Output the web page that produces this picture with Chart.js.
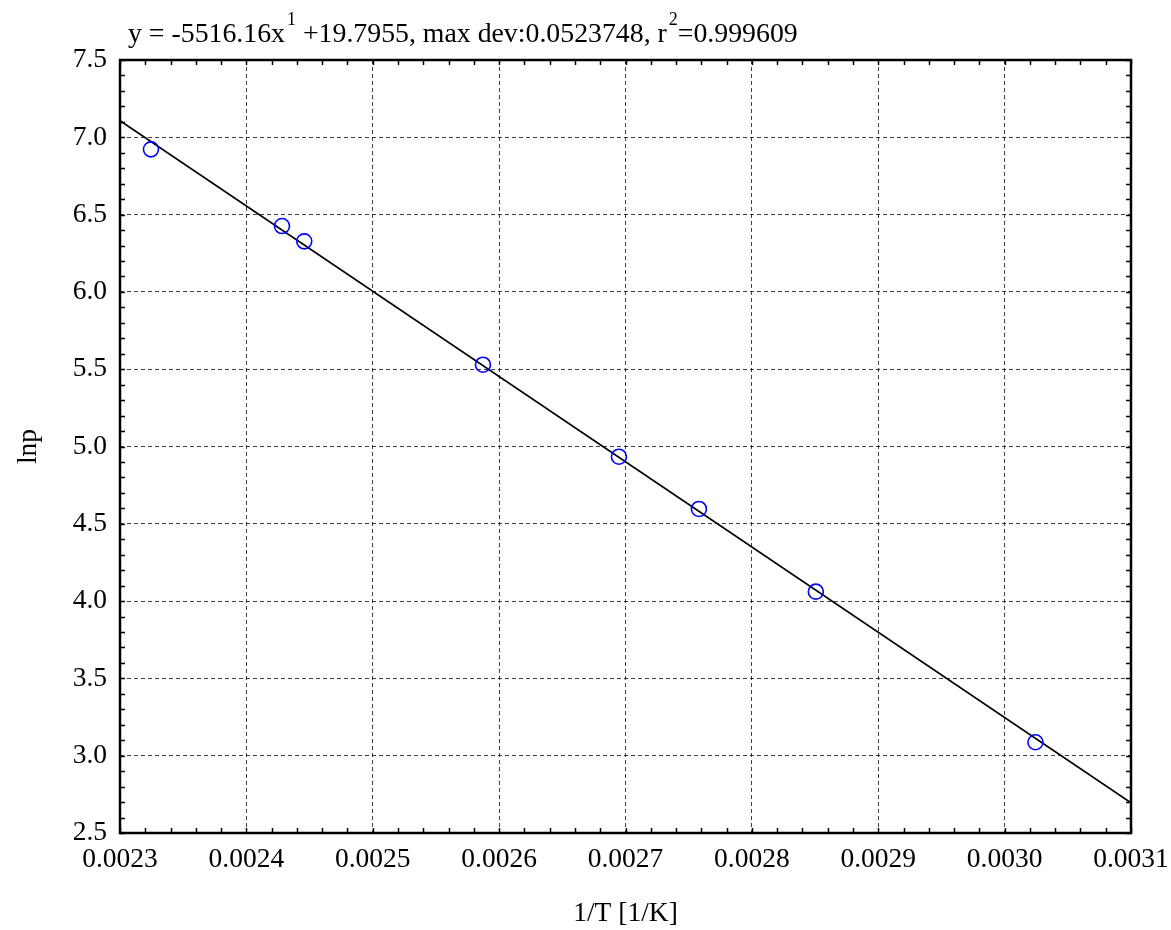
<!DOCTYPE html>
<html>
<head>
<meta charset="utf-8">
<script src="https://cdn.jsdelivr.net/npm/chart.js@4.4.1/dist/chart.umd.min.js"></script>
<style>
  html, body { margin: 0; padding: 0; background: #ffffff; }
  #wrap { width: 1171px; height: 930px; }
</style>
</head>
<body>
<div id="wrap"><canvas id="c" width="1171" height="930"></canvas></div>
<script>
// ---- data ----
const invT = [0.0023245, 0.0024282, 0.0024458, 0.0025872, 0.0026948, 0.0027581, 0.0028506, 0.0030244];
const lnp  = [6.922, 6.426, 6.327, 5.529, 4.934, 4.596, 4.061, 3.087];
const fitX = [0.0023, 0.0031];
const fitY = [7.108, 2.696];
const xTicks = [0.0023, 0.0024, 0.0025, 0.0026, 0.0027, 0.0028, 0.0029, 0.0030, 0.0031];
const yTicks = [2.5, 3.0, 3.5, 4.0, 4.5, 5.0, 5.5, 6.0, 6.5, 7.0, 7.5];
const titleParts = [
  { text: "y = -5516.16x", sup: false },
  { text: "1", sup: true },
  { text: " +19.7955, max dev:0.0523748, r", sup: false },
  { text: "2", sup: true },
  { text: "=0.999609", sup: false }
];
const xTitle = "1/T [1/K]";
const yTitle = "lnp";

const FONT = "'Liberation Serif', 'Times New Roman', serif";

const framePlugin = {
  id: 'frame',
  afterDraw(chart) {
    const { ctx, chartArea: a, scales } = chart;
    const xs = scales.x, ys = scales.y;
    ctx.save();
    // minor ticks (inside)
    ctx.strokeStyle = '#000';
    ctx.lineWidth = 1.5;
    ctx.beginPath();
    const tl = 5;
    for (let i = 0; i <= 40; i++) {
      const v = 0.0023 + i * 0.00002;
      const px = Math.round(xs.getPixelForValue(v)) + 0.5;
      ctx.moveTo(px, a.bottom); ctx.lineTo(px, a.bottom - tl);
      ctx.moveTo(px, a.top); ctx.lineTo(px, a.top + tl);
    }
    for (let i = 0; i <= 50; i++) {
      const v = 2.5 + i * 0.1;
      const py = Math.round(ys.getPixelForValue(v)) + 0.5;
      ctx.moveTo(a.left, py); ctx.lineTo(a.left + tl, py);
      ctx.moveTo(a.right, py); ctx.lineTo(a.right - tl, py);
    }
    ctx.stroke();
    // frame
    ctx.lineWidth = 2.5;
    ctx.strokeRect(a.left, a.top, a.right - a.left, a.bottom - a.top);
    // title with superscripts
    let x = a.left + 8;
    const base = 42;
    ctx.fillStyle = '#000';
    ctx.textBaseline = 'alphabetic';
    ctx.textAlign = 'left';
    for (const p of titleParts) {
      if (p.sup) {
        ctx.font = "18px " + FONT;
        ctx.fillText(p.text, x + 2, base - 17);
        x += ctx.measureText(p.text).width + 2;
      } else {
        ctx.font = "27.8px " + FONT;
        ctx.fillText(p.text, x, base);
        x += ctx.measureText(p.text).width;
      }
    }
    ctx.restore();
  }
};

const scatterData = invT.map((v, i) => ({ x: v, y: lnp[i] }));
const fitData = fitX.map((v, i) => ({ x: v, y: fitY[i] }));

new Chart(document.getElementById('c'), {
  type: 'scatter',
  data: {
    datasets: [
      {
        type: 'line',
        data: fitData,
        borderColor: '#000',
        borderWidth: 1.7,
        pointRadius: 0,
        fill: false,
        order: 2
      },
      {
        data: scatterData,
        borderColor: '#0000ff',
        backgroundColor: 'rgba(0,0,0,0)',
        borderWidth: 1.6,
        pointRadius: 7.5,
        pointHoverRadius: 7.5,
        order: 1
      }
    ]
  },
  options: {
    responsive: false,
    devicePixelRatio: 1,
    animation: false,
    events: [],
    layout: { padding: { left: 0, right: 40, top: 60, bottom: 0 } },
    plugins: { legend: { display: false }, tooltip: { enabled: false }, title: { display: false } },
    scales: {
      x: {
        type: 'linear',
        min: 0.0023,
        max: 0.0031,
        afterBuildTicks(s) { s.ticks = xTicks.map(v => ({ value: v })); },
        afterFit(s) { s.height = 97; s.paddingLeft = 0; s.paddingRight = 0; },
        ticks: {
          color: '#000',
          font: { family: FONT, size: 27.5 },
          padding: 10,
          maxRotation: 0,
          autoSkip: false,
          callback: v => Number(v).toFixed(4)
        },
        grid: { color: 'rgba(0,0,0,0.75)', lineWidth: 1, drawTicks: false },
        border: { display: false, dash: [4, 3] },
        title: { display: true, text: xTitle, color: '#000', font: { family: FONT, size: 27.5 }, padding: { top: 0, bottom: 0 } }
      },
      y: {
        type: 'linear',
        min: 2.5,
        max: 7.5,
        afterBuildTicks(s) { s.ticks = yTicks.map(v => ({ value: v })); },
        afterFit(s) { s.width = 120; s.paddingTop = 0; s.paddingBottom = 0; },
        ticks: {
          color: '#000',
          font: { family: FONT, size: 27.5 },
          padding: 13,
          autoSkip: false,
          callback: v => Number(v).toFixed(1)
        },
        grid: { color: 'rgba(0,0,0,0.75)', lineWidth: 1, drawTicks: false },
        border: { display: false, dash: [4, 3] },
        title: { display: true, text: yTitle, color: '#000', font: { family: FONT, size: 27.5 }, padding: { top: 12, bottom: 0 } }
      }
    }
  },
  plugins: [framePlugin]
});
</script>
</body>
</html>
